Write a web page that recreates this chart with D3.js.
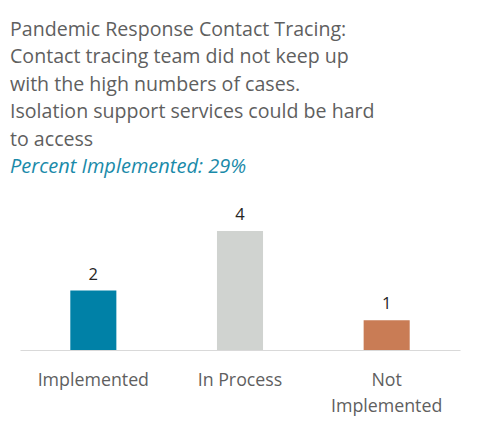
<!DOCTYPE html>
<html>
<head>
<meta charset="utf-8">
<script src="https://cdn.jsdelivr.net/npm/d3@7"></script>
<style>
  body { margin: 0; background: #fff; }
  svg { display: block; font-family: "Open Sans", "Noto Sans", sans-serif; }
</style>
</head>
<body>
<svg id="chart"></svg>
<script>
// Data
const titleLines = [
  "Pandemic Response Contact Tracing:",
  "Contact tracing team did not keep up",
  "with the high numbers of cases.",
  "Isolation support services could be hard",
  "to access"
]
const subtitle = "Percent Implemented: 29%"
const categories = ["Implemented", "In Process", "Not Implemented"]
const categoryLines = [["Implemented"], ["In Process"], ["Not", "Implemented"]]
const counts = [2, 4, 1]
const barColors = ["#0081a7", "#d0d3d0", "#c97c55"]

// Dimensions
const totalW = 480
const totalH = 427
const margin = { left: 20, right: 20, top: 231, bottom: 77 }
const w = totalW - margin.left - margin.right
const h = totalH - margin.top - margin.bottom

const svg = d3.select("#chart")
  .attr("width", totalW)
  .attr("height", totalH)

// Title
svg.append("g")
  .selectAll("text")
  .data(titleLines)
  .enter()
  .append("text")
  .attr("x", 10)
  .attr("y", (d, i) => 36 + i * 27.4)
  .attr("fill", "#5f5f5f")
  .attr("font-size", 19.6)
  .text(d => d)

svg.append("text")
  .attr("x", 10)
  .attr("y", 173)
  .attr("fill", "#1a8aa9")
  .attr("font-size", 20)
  .attr("font-style", "italic")
  .text(subtitle)

// Scales
const xScale = d3.scaleBand()
  .domain(categories)
  .range([0, w])
  .paddingInner(0.686)
  .paddingOuter(0.343)
const yScale = d3.scaleLinear()
  .domain([0, d3.max(counts)])
  .range([h, 0])

const g = svg.append("g")
  .attr("transform", `translate(${margin.left}, ${margin.top})`)

// Bars
g.selectAll("rect")
  .data(counts)
  .enter()
  .append("rect")
  .attr("x", (d, i) => xScale(categories[i]))
  .attr("y", d => yScale(d))
  .attr("width", xScale.bandwidth())
  .attr("height", d => h - yScale(d))
  .attr("fill", (d, i) => barColors[i])

// Value labels
g.selectAll(".val")
  .data(counts)
  .enter()
  .append("text")
  .attr("class", "val")
  .attr("x", (d, i) => xScale(categories[i]) + xScale.bandwidth() / 2)
  .attr("y", d => yScale(d) - 11)
  .attr("text-anchor", "middle")
  .attr("fill", "#252423")
  .attr("font-size", 16.5)
  .text(d => d)

// Axis
const xAxis = d3.axisBottom(xScale).tickSize(0).tickFormat("")
const axis = g.append("g")
  .attr("transform", `translate(0, ${h})`)
  .call(xAxis)
axis.select(".domain").attr("stroke", "#d9d9d9")

const ticks = g.selectAll(".cat")
  .data(categories)
  .enter()
  .append("text")
  .attr("class", "cat")
  .attr("x", d => xScale(d) + xScale.bandwidth() / 2)
  .attr("y", h + 36)
  .attr("text-anchor", "middle")
  .attr("fill", "#5f5f5f")
  .attr("font-size", 17.8)
ticks.selectAll("tspan")
  .data((d, i) => categoryLines[i])
  .enter()
  .append("tspan")
  .attr("x", function () { return d3.select(this.parentNode).attr("x") })
  .attr("dy", (d, i) => i === 0 ? 0 : 26)
  .text(d => d)
</script>
</body>
</html>
